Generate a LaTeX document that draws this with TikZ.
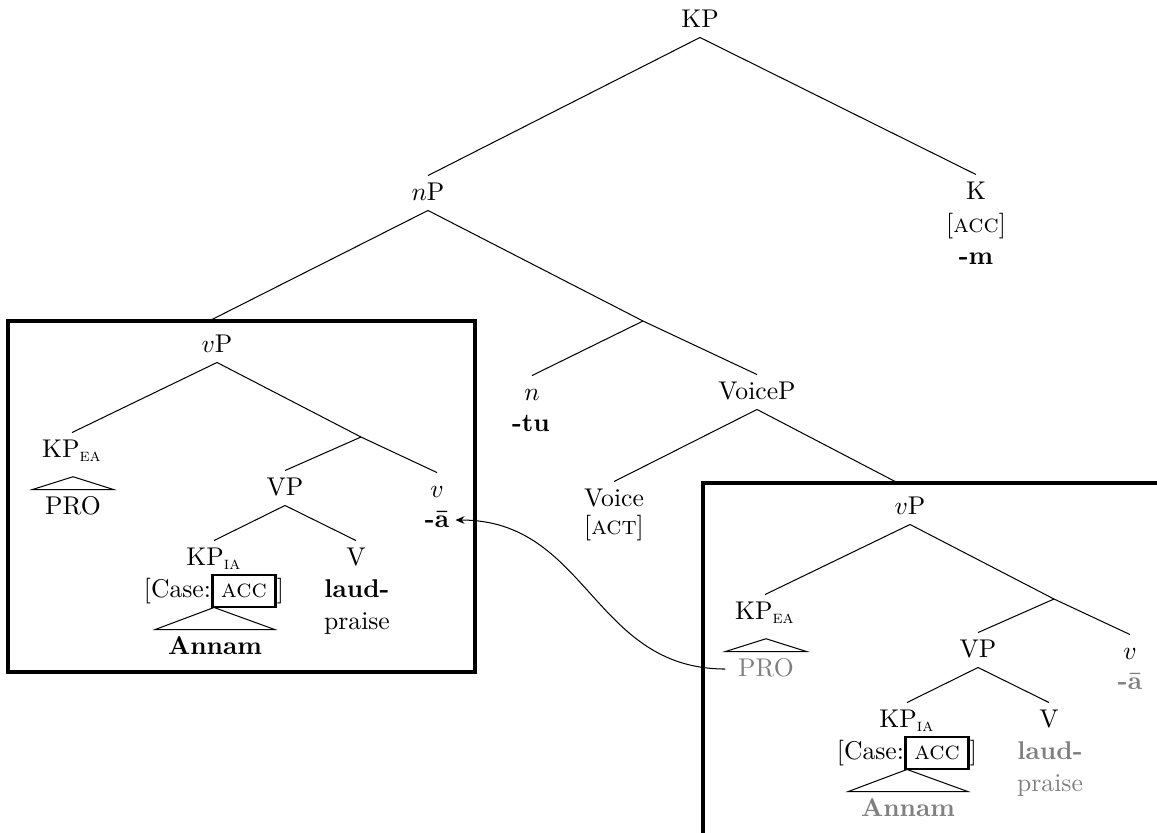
\documentclass[tikz,border=0pt]{standalone}
\usetikzlibrary{arrows.meta}
\setlength{\fboxrule}{1pt}

\begin{document}
\begin{tikzpicture}[x=0.39pt,y=-0.39pt]
	\tikzstyle{t-node}=[inner sep=2.3pt,text height=1.7ex,text depth=.3ex]
	\tikzstyle{roof-node}=[t-node,inner xsep=4.8pt]
	\tikzstyle{frame}=[line width=1.2pt]
	\useasboundingbox (0,0) rectangle (1157,832);

	% one boxed vP: #1 name suffix, #2 colour of the exponents
	\def\vptree#1#2{%
	\node[t-node] 	(vP#1)	at (217,345)	{$v$P};
	\coordinate 	(vbar#1)	at (361,437);
	\node[t-node] 	(KPea#1)	at (72,450)	{KP\textsubscript{\textsc{ea}}};
	\node[roof-node,#2] 	(PRO#1)	at (73,507)	{PRO};
	\node[t-node] 	(VP#1)	at (285,488)	{VP};
	\node[t-node] 	(v#1)	at (437,490)	{$v$};
	\node[t-node,#2] 	(v-exp#1)	at (437,520)	{\textbf{-\=a}};
	\node[t-node] 	(KPia#1)	at (214,558)	{KP\textsubscript{\textsc{ia}}};
	\node[t-node] 	(case#1)	at (214,590)	{[Case:\fbox{\textsc{acc}}]};
	\node[roof-node,#2] 	(Annam#1)	at (215,647)	{\textbf{Annam}};
	\node[t-node] 	(V#1)	at (356,558)	{V};
	\node[t-node,#2] 	(laud#1)	at (357,590)	{\textbf{laud-}};
	\node[t-node,#2] 	(praise#1)	at (357,622)	{praise};
	\path (vP#1.south)	edge	(KPea#1.north)
		(vP#1.south)	edge	(vbar#1)
		(vbar#1)	edge	(VP#1.north)
		(vbar#1)	edge	(v#1.north)
		(VP#1.south)	edge	(KPia#1.north)
		(VP#1.south)	edge	(V#1.north);
	\draw (PRO#1.north west) -- ([yshift=5pt]PRO#1.north) -- (PRO#1.north east) -- cycle;
	\draw (Annam#1.north west) -- (case#1.south) -- (Annam#1.north east) -- cycle;}

	% upper tree
	\node[t-node] 	(KP)	at (700,20)	{KP};
	\node[t-node] 	(nP)	at (428,193)	{$n$P};
	\node[t-node] 	(K)	at (976,192)	{K};
	\node[t-node] 	(K-feat)	at (976,225)	{[\textsc{acc}]};
	\node[t-node] 	(K-exp)	at (976,257)	{\textbf{-m}};
	\coordinate 	(n-bar)	at (643,321);
	\node[t-node] 	(n)	at (532,393)	{$n$};
	\node[t-node] 	(n-exp)	at (531,424)	{\textbf{-tu}};
	\node[t-node] 	(VoiceP)	at (757,392)	{VoiceP};
	\node[t-node] 	(Voice)	at (614,499)	{Voice};
	\node[t-node] 	(Voice-feat)	at (614,527)	{[\textsc{act}]};
	\coordinate 	(boxL-top)	at (209,321);
	\coordinate 	(boxR-top)	at (898,483);

	\path (KP.south)	edge	(nP.north)
		(KP.south)	edge	(K.north)
		(nP.south)	edge	(boxL-top)
		(nP.south)	edge	(n-bar)
		(n-bar)	edge	(n.north)
		(n-bar)	edge	(VoiceP.north)
		(VoiceP.south)	edge	(Voice.north)
		(VoiceP.south)	edge	(boxR-top);

	% left box
	\draw[frame] (8,321) rectangle (475,672);
	\vptree{L}{black}

	% right box
	\draw[frame] (703,483) rectangle (1180,860);
	\begin{scope}[shift={(693,162)}]
		\vptree{R}{black!50}
	\end{scope}

	\draw[-{Stealth[length=3.5pt,width=3pt]}] (PROR.west) to[out=180,in=0,looseness=1.1] (v-expL.east);
\end{tikzpicture}
\end{document}
